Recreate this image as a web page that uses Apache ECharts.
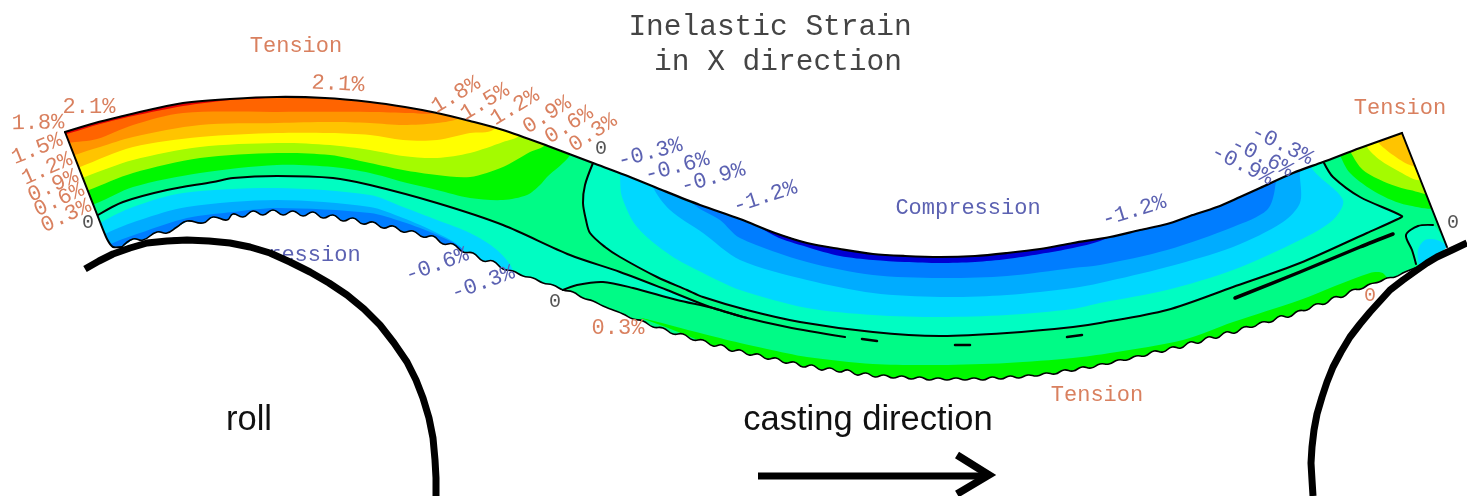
<!DOCTYPE html>
<html><head><meta charset="utf-8">
<style>html,body{margin:0;padding:0;background:#fff}#c{width:1467px;height:496px}</style>
<script src="https://cdn.jsdelivr.net/npm/echarts@6/dist/echarts.min.js"></script>
</head><body><div id="c"></div>
<script>
// ---------- strip outline ----------
const topEdge=[[65,132],[95,123],[123,116],[153,109],[183,103],[230,99],[277,97],[325,98],[370,102],[405,107],[437,113],[470,121],[503,130],[548,146],[593,163],[625,175],[657,188],[700,205],[740,219],[775,233],[807,243],[840,249],[873,254],[905,256],[940,257],[975,256],[1007,253],[1040,249],[1073,243],[1110,237],[1140,230],[1167,224],[1190,216],[1217,207],[1240,197],[1260,188],[1293,173],[1323,162],[1360,148],[1402,133]];
const rightEdge=[[1402,133],[1447,247],[1430,262],[1415,268]];
const bottomEdge=[[1415,268],[1405,272],[1395,277],[1387,278],[1379,282],[1370,284],[1361,289],[1352,290],[1343,297],[1334,297],[1325,304],[1316,304],[1307,310],[1298,311],[1289,317],[1280,316],[1271,322],[1262,322],[1253,327],[1244,327],[1235,333],[1226,332],[1217,338],[1208,337],[1199,343],[1190,342],[1181,348],[1172,347],[1163,352],[1154,351],[1145,356],[1136,356],[1127,360],[1118,360],[1109,364],[1100,364],[1091,368],[1082,367],[1073,371],[1064,370],[1055,374],[1046,373],[1037,376],[1028,375],[1019,378],[1010,376],[1001,379],[992,377],[983,380],[974,378],[965,380],[956,378],[947,380],[938,378],[929,380],[920,377],[911,379],[902,376],[893,378],[884,375],[875,377],[866,373],[857,375],[848,370],[839,372],[830,368],[821,370],[812,365],[803,367],[794,362],[785,363],[776,358],[767,359],[758,354],[749,355],[740,350],[731,351],[722,345],[713,346],[703,340],[693,340],[683,334],[673,334],[663,328],[653,327],[643,321],[633,319],[623,314],[613,310],[603,306],[593,301],[583,298],[573,292],[563,290],[553,285],[543,283],[533,278],[523,276],[513,271],[503,269],[493,261],[483,261],[473,253],[463,252],[453,244],[443,244],[433,236],[423,237],[413,231],[403,232],[393,226],[383,228],[373,222],[363,224],[353,218],[343,221],[333,215],[323,218],[313,212],[303,216],[293,211],[283,215],[273,210],[263,215],[253,211],[243,217],[233,214],[227,220],[213,217],[203,223],[187,221],[177,227],[167,233],[157,232],[143,240],[133,239],[122,247]];
const leftEdge=[[122,247],[113,247],[107,239],[100,222],[65,132]];

// ---------- colour bands: contour polylines (clipped to the strip) ----------
const cGreen=[[60,215],[97,203],[133,187],[200,173],[277,165],[333,167],[370,173],[403,182],[437,190],[470,198],[503,200],[527,195],[540,185],[547,177],[570,155],[575,130]];
const cLime=[[60,200],[89,190],[133,173],[200,158],[277,153],[330,155],[370,163],[403,170],[437,175],[470,177],[503,167],[530,152],[545,145],[550,125]];
const cYellow=[[60,188],[85,177],[133,160],[200,147],[277,143],[330,145],[370,150],[403,156],[437,158],[470,153],[503,142],[520,135],[525,115]];
const cAmber=[[60,175],[80,167],[133,147],[200,137],[277,133],[330,133],[370,135],[403,140],[437,140],[470,133],[493,130],[500,110]];
const cOrange=[[60,162],[75,155],[100,147],[133,137],[200,125],[277,123],[330,122],[370,123],[403,125],[437,123],[460,118],[470,105]];
const cDarkOrange=[[60,145],[68,143],[97,139],[133,125],[183,113],[277,112],[370,112],[410,113],[437,112],[440,95]];
const cRed=[[60,135],[70,133],[100,124],[133,116],[183,106],[230,100],[277,96],[280,85]];

const midTeal=[[593,163],[585,185],[583,203],[586,220],[590,233],[605,247],[620,257],[657,277],[687,290],[703,297],[747,310],[800,322],[873,332],[940,336],[1007,333],[1073,327],[1100,323],[1167,310],[1233,287],[1300,263],[1367,233],[1398,219],[1402,216],[1360,197],[1333,177],[1324,163],[1324,140],[593,140]];
const midCyan=[[620,165],[620,175],[622,197],[637,227],[670,255],[703,273],[740,290],[807,308],[873,315],[940,317],[1007,315],[1073,309],[1100,303],[1167,290],[1233,270],[1300,240],[1333,220],[1343,200],[1313,170],[1305,150],[620,150]];
const midSky=[[650,165],[653,187],[670,210],[703,233],[740,260],[807,280],[873,293],[940,297],[1007,295],[1073,288],[1100,283],[1167,267],[1233,247],[1283,222],[1300,203],[1300,178],[1296,150],[650,150]];
const midBlue=[[690,180],[693,203],[720,220],[740,238],[807,262],[873,275],[940,278],[1007,276],[1073,268],[1100,265],[1167,250],[1233,227],[1267,210],[1275,188],[1275,150],[690,150]];
const midNavy=[[745,215],[775,236],[807,247],[840,256],[873,260],[905,262],[940,263],[975,262],[1007,259],[1040,254],[1073,248],[1100,241],[1120,230],[1120,200],[745,200]];

const lowTeal=[[60,240],[98,215],[123,202],[167,190],[213,182],[233,178],[277,176],[333,178],[370,185],[437,203],[503,225],[570,255],[620,272],[667,290],[710,307],[747,318],[713,308],[677,300],[633,288],[603,282],[577,285],[563,290],[560,310],[90,270]];
const lowCyan=[[60,250],[102,222],[133,207],[183,193],[277,188],[370,195],[403,207],[437,220],[470,233],[497,250],[513,272],[500,300],[90,270]];
const lowSky=[[60,260],[107,233],[140,220],[187,207],[277,200],[370,207],[403,218],[437,233],[460,247],[470,270],[90,270]];
const lowBlue=[[60,270],[113,243],[140,233],[187,218],[233,212],[277,208],[370,213],[403,222],[437,235],[463,250],[470,280],[90,280]];
const lowGreen=[[640,318],[650,320],[700,333],[740,343],[767,349],[807,357],[873,364],[940,365],[1007,363],[1073,358],[1110,353],[1183,340],[1233,322],[1300,300],[1370,273],[1384,274],[1395,300],[900,400]];

const tipGreen=[[1340,150],[1340,155],[1350,173],[1377,193],[1407,205],[1440,205],[1440,100]];
const tipLime=[[1351,150],[1351,153],[1363,170],[1387,183],[1410,190],[1440,193],[1440,100]];
const tipYellow=[[1367,140],[1367,147],[1380,160],[1400,172],[1417,180],[1440,180],[1440,100]];
const tipAmber=[[1378,135],[1378,142],[1393,155],[1410,165],[1440,170],[1440,100]];
const boxTeal=[[1416,264],[1412,250],[1406,235],[1418,226],[1433,225],[1447,247],[1450,270]];
const boxCyan=[[1420,264],[1418,250],[1425,240],[1437,240],[1447,247],[1432,262]];

const bandColors={base:'#00fb86',green:'#00f800',lime:'#a4fb00',yellow:'#ffff00',amber:'#ffc400',orange:'#ff9500',darkOrange:'#ff6400',red:'#e60000',teal:'#00fdc2',cyan:'#00d8ff',sky:'#00acff',blue:'#007dff',navy:'#0000d2'};
const stripOutline=[...topEdge,...rightEdge.slice(1),...bottomEdge.slice(1),...leftEdge.slice(1,-1)];
const bandLayers=[
 [stripOutline,'base'],[lowGreen,'green'],
 [midTeal,'teal'],[midCyan,'cyan'],[midSky,'sky'],[midBlue,'blue'],[midNavy,'navy'],
 [lowTeal,'teal'],[lowCyan,'cyan'],[lowSky,'sky'],[lowBlue,'blue'],
 [tipGreen,'green'],[tipLime,'lime'],[tipYellow,'yellow'],[tipAmber,'amber'],
 [boxTeal,'teal'],[boxCyan,'cyan'],
 [cGreen,'green'],[cLime,'lime'],[cYellow,'yellow'],[cAmber,'amber'],[cOrange,'orange'],[cDarkOrange,'darkOrange'],[cRed,'red']
];
// bands of the upper-left zone are open contours, closed above the strip
const openBands=[cGreen,cLime,cYellow,cAmber,cOrange,cDarkOrange,cRed];

// ---------- black contour lines ----------
const lineLeft=[[98,215],[123,202],[167,190],[213,182],[233,178],[277,176],[333,178],[370,185],[437,203],[503,225],[570,255],[620,272],[667,290],[710,307],[747,318]];
const lineUpper=midTeal.slice(0,26);
const lineThird=[[563,290],[577,285],[603,282],[633,288],[677,300],[713,308],[743,317],[787,327],[845,337]];
const lineDash1=[[862,339],[877,341]];
const lineDash2=[[955,345],[970,345]];
const lineDash3=[[1067,337],[1082,335]];
const lineBox=[[1416,264],[1412,250],[1406,235],[1418,226],[1433,225]];
const thickLine=[[1235,298],[1300,272],[1360,247],[1393,234]];

// ---------- rolls and arrow ----------
const rollLeft=[[85,269],[99,261],[113,254],[130,248],[147,243],[167,241],[187,240],[209,241],[230,243],[250,247],[270,253],[290,262],[310,272],[329,283],[347,295],[364,309],[380,325],[394,343],[407,362],[416,380],[423,398],[429,418],[433,438],[435,460],[436,478],[436,496]];
const rollRight=[[1467,243],[1452,250],[1437,257],[1427,263],[1417,270],[1403,280],[1390,290],[1380,301],[1370,312],[1360,324],[1350,337],[1341,352],[1333,367],[1327,382],[1322,397],[1317,414],[1314,430],[1312,447],[1311,463],[1312,480],[1313,496]];
const arrowShaft=[[758,476],[985,476]];
const arrowHead=[[957,455],[989,475],[957,494]];

// ---------- text: [string, x, y, rotation deg] ----------
const titleTexts=[['Inelastic Strain',770,27,0],['in X direction',778,62,0]];
const tensionLabels=[['Tension',296,46,0],['Tension',1400,108,0],['Tension',1097,395,0],['2.1%',89,107,0],['1.8%',38,123,1],['1.5%',37,149,22],['1.2%',47,169,24],['0.9%',53,186,24],['0.6%',59,200,25],['0.3%',66,216,25],['2.1%',338,84,-3],['1.8%',456,95,31],['1.5%',485,102,31],['1.2%',515,107,31],['0.9%',547,115,32],['0.6%',569,125,32],['0.3%',593,133,33],['0.3%',618,328,0]];
const tensionZero=[['0',1370,296,0]];
const compressionLabels=[['Compression',288,255,0],['Compression',968,208,0],['-0.3%',650,153,15],['-0.6%',677,167,15],['-0.9%',713,178,16],['-1.2%',765,197,18],['-1.2%',1134,211,17],['-0.3%',1282,145,-26],['-0.6%',1262,157,-26],['-0.9%',1242,165,-26],['-0.6%',437,265,20],['-0.3%',483,283,20],['0',175,246,0]];
const zeroLabels=[['0',88,223,0],['0',601,149,0],['0',555,302,0],['0',1453,223,0]];
const captionTexts=[['roll',249,420,0],['casting direction',868,420,0]];

function poly(api,pts){return pts.map(p=>api.coord(p));}
function closedBand(pts){
  if(!openBands.includes(pts))return pts;
  const l=pts[pts.length-1];
  return [...pts,[l[0],40],[40,40],[40,pts[0][1]]];
}
const bandSeries={type:'custom',silent:true,clip:false,z:2,animation:false,
 data:bandLayers.map((_,i)=>[i]),
 renderItem(params,api){
  const [pts,c]=bandLayers[params.dataIndex];
  return {type:'polygon',shape:{points:poly(api,closedBand(pts)),smooth:pts===stripOutline?0:0.3},style:{fill:bandColors[c],stroke:null},
    clipPath:{type:'polygon',shape:{points:poly(api,stripOutline)}}};
 }};
function lineSeries(lines,width,z,smooth,cap,join){
 return {type:'custom',silent:true,clip:false,z,animation:false,data:lines.map((_,i)=>[i]),
 renderItem(params,api){return {type:'polyline',shape:{points:poly(api,lines[params.dataIndex]),smooth:smooth||0},
   style:{fill:null,stroke:'#000',lineWidth:width,lineJoin:join||(cap?'miter':'round'),lineCap:cap||'round'}};}};
}
function textSeries(items,font,color,z){
 return {type:'custom',silent:true,clip:false,z,animation:false,data:items.map((_,i)=>[i]),
 renderItem(params,api){const t=items[params.dataIndex];const p=api.coord([t[1],t[2]]);
  return {type:'text',x:p[0],y:p[1],rotation:(t[3]||0)*Math.PI/180,
    style:{text:t[0],font,fill:color,textAlign:'center',verticalAlign:'middle'}};}};
}
function fillSeries(shapes,z){
 return {type:'custom',silent:true,clip:false,z,animation:false,data:shapes.map((_,i)=>[i]),
 renderItem(params,api){return {type:'polygon',shape:{points:poly(api,shapes[params.dataIndex])},style:{fill:'#fff',stroke:null}};}};
}
const chart=echarts.init(document.getElementById('c'),null,{renderer:'canvas'});
chart.setOption({animation:false,backgroundColor:'#fff',
 grid:{left:0,right:0,top:0,bottom:0},
 xAxis:{type:'value',min:0,max:1467,show:false},
 yAxis:{type:'value',min:0,max:496,inverse:true,show:false},
 series:[
  bandSeries,
  lineSeries([lineLeft,lineUpper,lineThird,lineBox],2,3,0.3),
  lineSeries([lineDash1,lineDash2,lineDash3],2.5,3),
  lineSeries([thickLine],3.5,3,0.3),
  lineSeries([topEdge],2.2,4,0.3),
  lineSeries([[rightEdge[0],rightEdge[1]]],2,4),
  lineSeries([bottomEdge],1.6,4,0.5),
  lineSeries([leftEdge],2,4,0.2),
  textSeries(titleTexts,'29.5px "Liberation Mono"','#444',5),
  textSeries(tensionLabels,'22px "Liberation Mono"','#d9805f',5),
  textSeries(tensionZero,'20px "Liberation Mono"','#d9805f',5),
  textSeries(compressionLabels,'22px "Liberation Mono"','#5c62b2',5),
  textSeries(zeroLabels,'20px "Liberation Mono"','#555',5),
  fillSeries([rollLeft,rollRight],6),
  lineSeries([rollLeft,rollRight],7,7,0,'butt','round'),
  textSeries(captionTexts,'34.5px "Liberation Sans"','#111',8),
  lineSeries([arrowShaft],7,8,0,'butt'),
  lineSeries([arrowHead],7.5,8,0,'butt')
 ]});
</script></body></html>
